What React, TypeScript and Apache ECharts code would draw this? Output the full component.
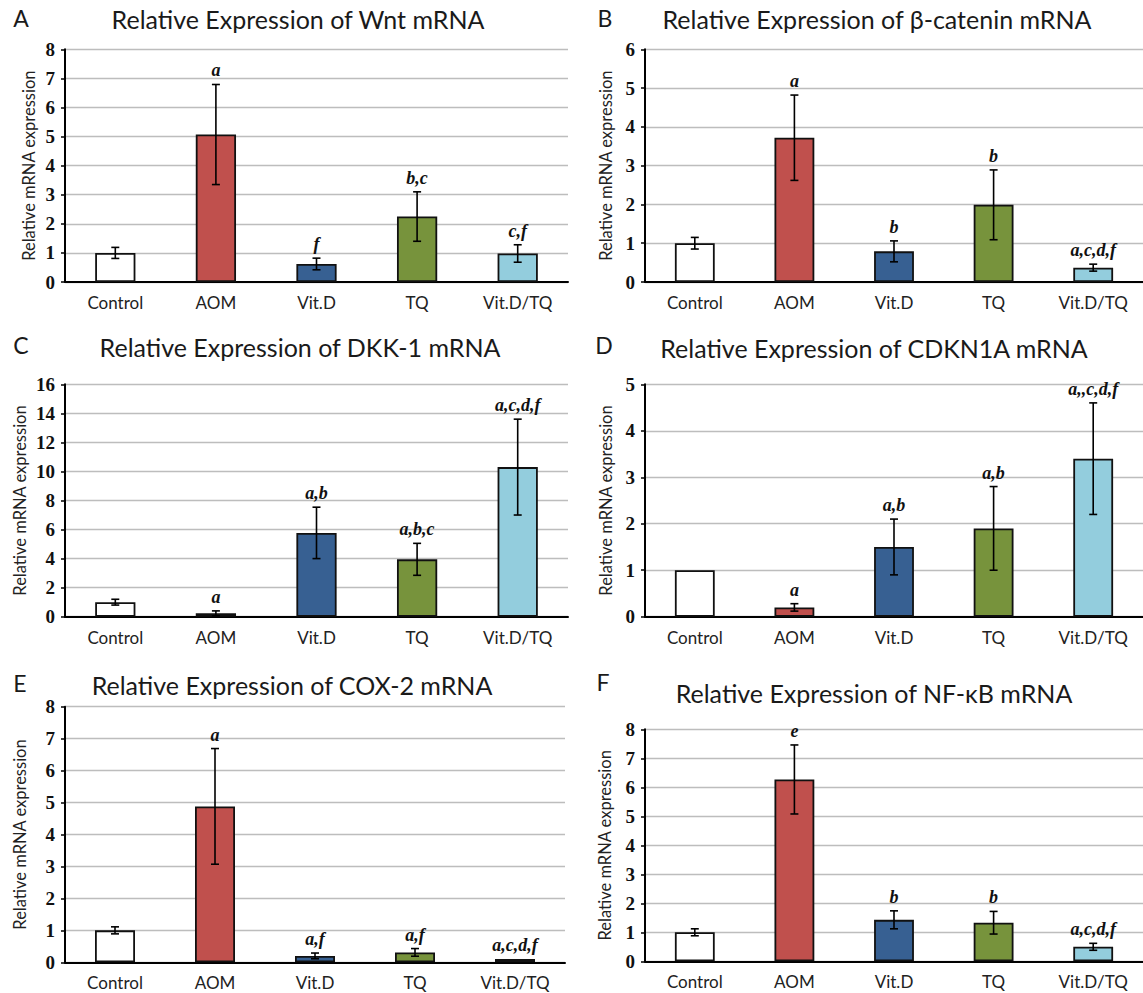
import React, { useEffect, useRef } from "react";
import * as echarts from "echarts";

const categories = ["Control", "AOM", "Vit.D", "TQ", "Vit.D/TQ"];
const barColors = ["#FFFFFF", "#C0504D", "#376092", "#77933C", "#93CDDD"];

const wntMean = [1.0, 5.07, 0.62, 2.25, 0.98];
const wntErr = [0.19, 1.72, 0.2, 0.85, 0.3];
const wntLabels = ["", "a", "f", "b,c", "c,f"];

const bcatMean = [1.0, 3.72, 0.79, 1.99, 0.37];
const bcatErr = [0.15, 1.1, 0.27, 0.9, 0.09];
const bcatLabels = ["", "a", "b", "b", "a,c,d,f"];

const dkkMean = [1.0, 0.23, 5.77, 3.95, 10.3];
const dkkErr = [0.2, 0.17, 1.77, 1.1, 3.3];
const dkkLabels = ["", "a", "a,b", "a,b,c", "a,c,d,f"];

const cdkMean = [1.0, 0.2, 1.5, 1.9, 3.4];
const cdkErr = [0, 0.08, 0.6, 0.9, 1.2];
const cdkLabels = ["", "a", "a,b", "a,b", "a,,c,d,f"];

const coxMean = [1.0, 4.88, 0.2, 0.31, 0.1];
const coxErr = [0.11, 1.81, 0.09, 0.12, 0];
const coxLabels = ["", "a", "a,f", "a,f", "a,c,d,f"];

const nfkbMean = [1.0, 6.27, 1.43, 1.33, 0.5];
const nfkbErr = [0.12, 1.19, 0.31, 0.39, 0.12];
const nfkbLabels = ["", "e", "b", "b", "a,c,d,f"];

const panelLetters = ["A", "B", "C", "D", "E", "F"];
const panelTitles = [
  "Relative Expression of Wnt mRNA",
  "Relative Expression of β-catenin mRNA",
  "Relative Expression of DKK-1 mRNA",
  "Relative Expression of CDKN1A mRNA",
  "Relative Expression of COX-2 mRNA",
  "Relative Expression of NF-κB mRNA",
];
const yMax = [8, 6, 16, 5, 8, 8];
const yInterval = [1, 1, 2, 1, 1, 1];
const yAxisName = "Relative mRNA expression";

const panelData = [
  { mean: wntMean, err: wntErr, labels: wntLabels },
  { mean: bcatMean, err: bcatErr, labels: bcatLabels },
  { mean: dkkMean, err: dkkErr, labels: dkkLabels },
  { mean: cdkMean, err: cdkErr, labels: cdkLabels },
  { mean: coxMean, err: coxErr, labels: coxLabels },
  { mean: nfkbMean, err: nfkbErr, labels: nfkbLabels },
];

// layout (pixels)
const grids = [
  { left: 65, top: 49.3, width: 503, height: 232.7 },
  { left: 645, top: 49.3, width: 503, height: 232.7 },
  { left: 65, top: 384.3, width: 503, height: 232.4 },
  { left: 645, top: 384.3, width: 503, height: 232.4 },
  { left: 65, top: 706.7, width: 500, height: 255.6 },
  { left: 645, top: 729.3, width: 503, height: 232 },
];
const titlePos = [
  [298, 19], [877, 19], [300, 347], [874, 348], [292, 685], [874, 693],
];
const letterPos = [
  [21, 18], [605, 18], [21, 345], [604, 345], [20, 683], [603, 682],
];
const yNameX = [29, 606, 20, 606, 20, 605];

const SANS = "Lato, 'Open Sans', sans-serif";
const SERIF = "'Liberation Serif', 'Times New Roman', serif";

export default function App() {
  const ref = useRef<HTMLDivElement>(null);
  useEffect(() => {
    if (!ref.current) return;
    const chart = echarts.init(ref.current, undefined, { renderer: "svg" });

    const gridOpt: any[] = [];
    const xAxes: any[] = [];
    const yAxes: any[] = [];
    const series: any[] = [];
    const graphics: any[] = [];

    panelData.forEach((p, k) => {
      const g = grids[k];
      gridOpt.push({ left: g.left, top: g.top, width: g.width, height: g.height, containLabel: false });
      xAxes.push({
        type: "category",
        gridIndex: k,
        data: categories,
        axisLine: { show: true, onZero: false, lineStyle: { color: "#000", width: 2 } },
        axisTick: { show: false },
        axisLabel: { color: "#222", fontFamily: SANS, fontSize: 17, margin: 12 },
        splitLine: { show: false },
      });
      yAxes.push({
        type: "value",
        gridIndex: k,
        min: 0,
        max: yMax[k],
        interval: yInterval[k],
        axisLine: { show: true, lineStyle: { color: "#000", width: 2 } },
        axisTick: { show: true, length: 4, lineStyle: { color: "#000", width: 1.5 } },
        axisLabel: { color: "#111", fontFamily: SERIF, fontWeight: "bold", fontSize: 19, margin: 10 },
        splitLine: { show: true, lineStyle: { color: "#BDBDBD", width: 1.4 } },
      });
      series.push({
        type: "bar",
        xAxisIndex: k,
        yAxisIndex: k,
        barWidth: "40%",
        data: p.mean.map((v, i) => ({
          value: v,
          itemStyle: { color: barColors[i], borderColor: "#111", borderWidth: 1.8 },
        })),
        z: 2,
      });
      series.push({
        type: "custom",
        xAxisIndex: k,
        yAxisIndex: k,
        z: 5,
        data: p.mean.map((v, i) => [i, v, p.err[i]]),
        encode: { x: 0, y: 1 },
        renderItem: (params: any, api: any) => {
          const i = api.value(0);
          const v = api.value(1);
          const e = api.value(2);
          const topPt = api.coord([i, v + e]);
          const botPt = api.coord([i, v - e]);
          const children: any[] = [];
          const cap = 4;
          if (e > 0) {
            const ls = { stroke: "#000", lineWidth: 1.6 };
            children.push({ type: "line", shape: { x1: topPt[0], y1: topPt[1], x2: botPt[0], y2: botPt[1] }, style: ls });
            children.push({ type: "line", shape: { x1: topPt[0] - cap, y1: topPt[1], x2: topPt[0] + cap, y2: topPt[1] }, style: ls });
            children.push({ type: "line", shape: { x1: botPt[0] - cap, y1: botPt[1], x2: botPt[0] + cap, y2: botPt[1] }, style: ls });
          }
          const lab = panelData[k].labels[params.dataIndex];
          if (lab) {
            children.push({
              type: "text",
              x: topPt[0],
              y: topPt[1] - 14,
              style: {
                text: lab,
                fill: "#111",
                font: `italic bold 18px ${SERIF}`,
                align: "center",
                verticalAlign: "middle",
              },
            });
          }
          return { type: "group", children };
        },
      });

      graphics.push({
        type: "text",
        x: titlePos[k][0],
        y: titlePos[k][1],
        style: { text: panelTitles[k], fill: "#1a1a1a", font: `25px ${SANS}`, align: "center", verticalAlign: "middle" },
      });
      graphics.push({
        type: "text",
        x: letterPos[k][0],
        y: letterPos[k][1],
        style: { text: panelLetters[k], fill: "#1a1a1a", font: `23px ${SANS}`, align: "center", verticalAlign: "middle" },
      });
      graphics.push({
        type: "text",
        x: yNameX[k],
        y: g.top + g.height / 2,
        rotation: Math.PI / 2,
        style: { text: yAxisName, fill: "#222", font: `16.5px ${SANS}`, align: "center", verticalAlign: "middle" },
      });
    });

    chart.setOption({
      animation: false,
      backgroundColor: "#ffffff",
      grid: gridOpt,
      xAxis: xAxes,
      yAxis: yAxes,
      series,
      graphic: { elements: graphics },
    });
    return () => chart.dispose();
  }, []);
  return (
    <div
      ref={ref}
      style={{ position: "absolute", left: 0, top: 0, width: 1143, height: 993, background: "#fff" }}
    />
  );
}
